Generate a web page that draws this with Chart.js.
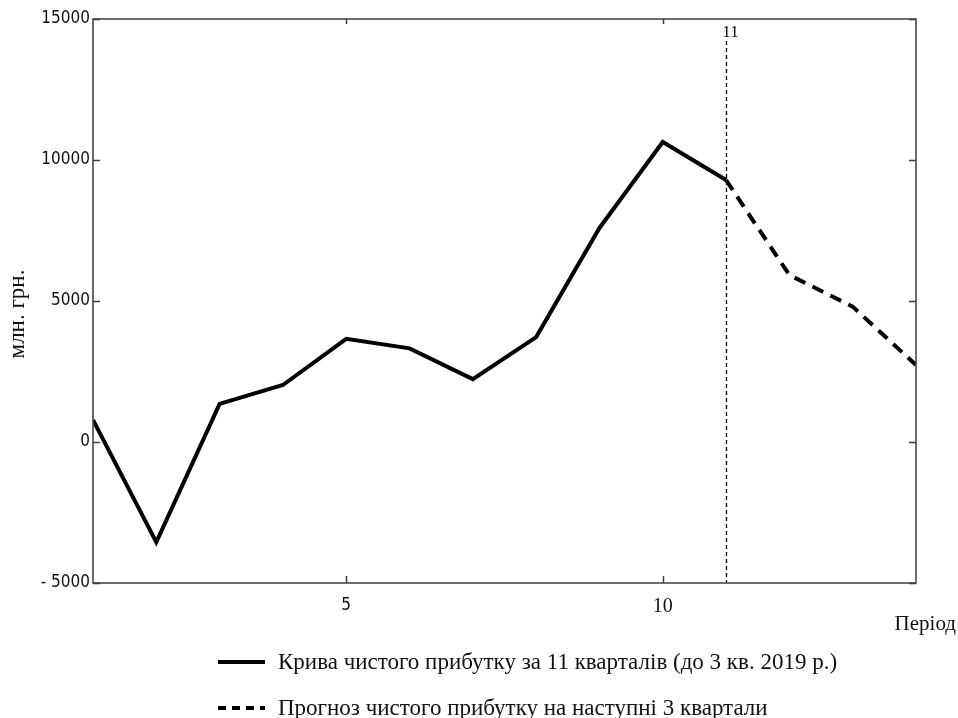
<!DOCTYPE html>
<html>
<head>
<meta charset="utf-8">
<title>Чистий прибуток</title>
<script src="https://cdn.jsdelivr.net/npm/chart.js@4.4.1/dist/chart.umd.min.js"></script>
<style>
  html, body { margin: 0; padding: 0; background: #fff; }
  canvas { display: block; }
</style>
</head>
<body>
<canvas id="chart" width="958" height="718"></canvas>
<script>
/*********************************
 DATA
*********************************/
const actualPeriods = [1, 2, 3, 4, 5, 6, 7, 8, 9, 10, 11];
const actualProfit = [780, -3550, 1350, 2020, 3660, 3320, 2230, 3720, 7590, 10640, 9290];
const forecastPeriods = [11, 12, 13, 14];
const forecastProfit = [9290, 5920, 4800, 2730];

const xTickValues = [5, 10];
const yTickValues = [-5000, 0, 5000, 10000, 15000];
const markPeriod = 11;

const legendLabels = [
  "Крива чистого прибутку за 11 кварталів (до 3 кв. 2019 р.)",
  "Прогноз чистого прибутку на наступні 3 квартали"
];
const yTitle = "млн. грн.";
const xTitle = "Період";

/*********************************
 STYLE
*********************************/
const SANS = "'DejaVu Sans Condensed', 'DejaVu Sans', sans-serif";
const SERIF = "'Liberation Serif', 'DejaVu Serif', serif";
const FRAME = "#3c3c3c";

const toPoints = (xs, ys) => xs.map((x, i) => ({ x: x, y: ys[i] }));

/*********************************
 EXTRA DRAWING (frame, ticks, marker, legend)
*********************************/
const mathcadPlot = {
  id: "mathcadPlot",
  afterDraw(chart) {
    const ctx = chart.ctx;
    const a = chart.chartArea;
    const xs = chart.scales.x;
    const ys = chart.scales.y;

    ctx.save();

    // marker line at period 11
    const mx = Math.round(xs.getPixelForValue(markPeriod)) + 0.5;
    ctx.strokeStyle = "#000";
    ctx.lineWidth = 1.3;
    ctx.setLineDash([4, 3]);
    ctx.beginPath();
    ctx.moveTo(mx, a.top + 22);
    ctx.lineTo(mx, a.bottom);
    ctx.stroke();
    ctx.setLineDash([]);

    ctx.fillStyle = "#111";
    ctx.font = "17px " + SERIF;
    ctx.textAlign = "center";
    ctx.textBaseline = "middle";
    ctx.fillText(String(markPeriod), mx + 4, a.top + 14);

    // frame
    ctx.strokeStyle = FRAME;
    ctx.lineWidth = 1.5;
    ctx.strokeRect(a.left, a.top, a.right - a.left, a.bottom - a.top);

    // inward ticks
    ctx.beginPath();
    yTickValues.forEach(v => {
      const y = Math.round(ys.getPixelForValue(v)) + 0.5;
      ctx.moveTo(a.left, y); ctx.lineTo(a.left + 7, y);
      ctx.moveTo(a.right, y); ctx.lineTo(a.right - 7, y);
    });
    xTickValues.forEach(v => {
      const x = Math.round(xs.getPixelForValue(v)) + 0.5;
      ctx.moveTo(x, a.bottom); ctx.lineTo(x, a.bottom - 7);
      ctx.moveTo(x, a.top); ctx.lineTo(x, a.top + 5);
    });
    ctx.stroke();

    // axis titles
    ctx.fillStyle = "#111";
    ctx.font = "21px " + SERIF;
    ctx.textAlign = "right";
    ctx.fillText(xTitle, 956, 624);

    ctx.save();
    ctx.translate(18, 314);
    ctx.rotate(-Math.PI / 2);
    ctx.textAlign = "center";
    ctx.font = "23px " + SERIF;
    ctx.fillText(yTitle, 0, 0);
    ctx.restore();

    // legend
    const rows = [662, 708];
    const dashes = [[], [8, 6]];
    ctx.strokeStyle = "#000";
    ctx.lineWidth = 4;
    rows.forEach((y, i) => {
      ctx.setLineDash(dashes[i]);
      ctx.beginPath();
      ctx.moveTo(218, y);
      ctx.lineTo(265, y);
      ctx.stroke();
      ctx.setLineDash([]);
      ctx.font = "23px " + SERIF;
      ctx.textAlign = "left";
      ctx.fillText(legendLabels[i], 278, y + 1);
    });

    ctx.restore();
  }
};

/*********************************
 CHART
*********************************/
new Chart(document.getElementById("chart"), {
  type: "line",
  data: {
    datasets: [
      {
        label: legendLabels[0],
        data: toPoints(actualPeriods, actualProfit),
        borderColor: "#000",
        borderWidth: 4,
        pointRadius: 0,
        tension: 0
      },
      {
        label: legendLabels[1],
        data: toPoints(forecastPeriods, forecastProfit),
        borderColor: "#000",
        borderWidth: 4,
        borderDash: [12, 8],
        pointRadius: 0,
        tension: 0
      }
    ]
  },
  options: {
    responsive: false,
    animation: false,
    devicePixelRatio: 1,
    layout: { padding: { top: 19, right: 42, left: 0, bottom: 0 } },
    plugins: {
      legend: { display: false },
      tooltip: { enabled: false }
    },
    scales: {
      x: {
        type: "linear",
        min: 1,
        max: 14,
        grid: { display: false, drawTicks: false },
        border: { display: false },
        afterBuildTicks: s => { s.ticks = xTickValues.map(v => ({ value: v })); },
        afterFit: s => { s.height = 135; },
        ticks: {
          padding: 12,
          color: "#111",
          maxRotation: 0,
          font: c => (c.tick && c.tick.value === 10)
            ? { family: SERIF, size: 20 }
            : { family: SANS, size: 17 }
        }
      },
      y: {
        min: -5000,
        max: 15000,
        grid: { display: false, drawTicks: false },
        border: { display: false },
        afterBuildTicks: s => { s.ticks = yTickValues.map(v => ({ value: v })); },
        afterFit: s => { s.width = 93; },
        ticks: {
          padding: 3,
          color: "#111",
          font: { family: SANS, size: 17 },
          callback: v => v < 0 ? "- " + Math.abs(v) : String(v)
        }
      }
    }
  },
  plugins: [mathcadPlot]
});
</script>
</body>
</html>
